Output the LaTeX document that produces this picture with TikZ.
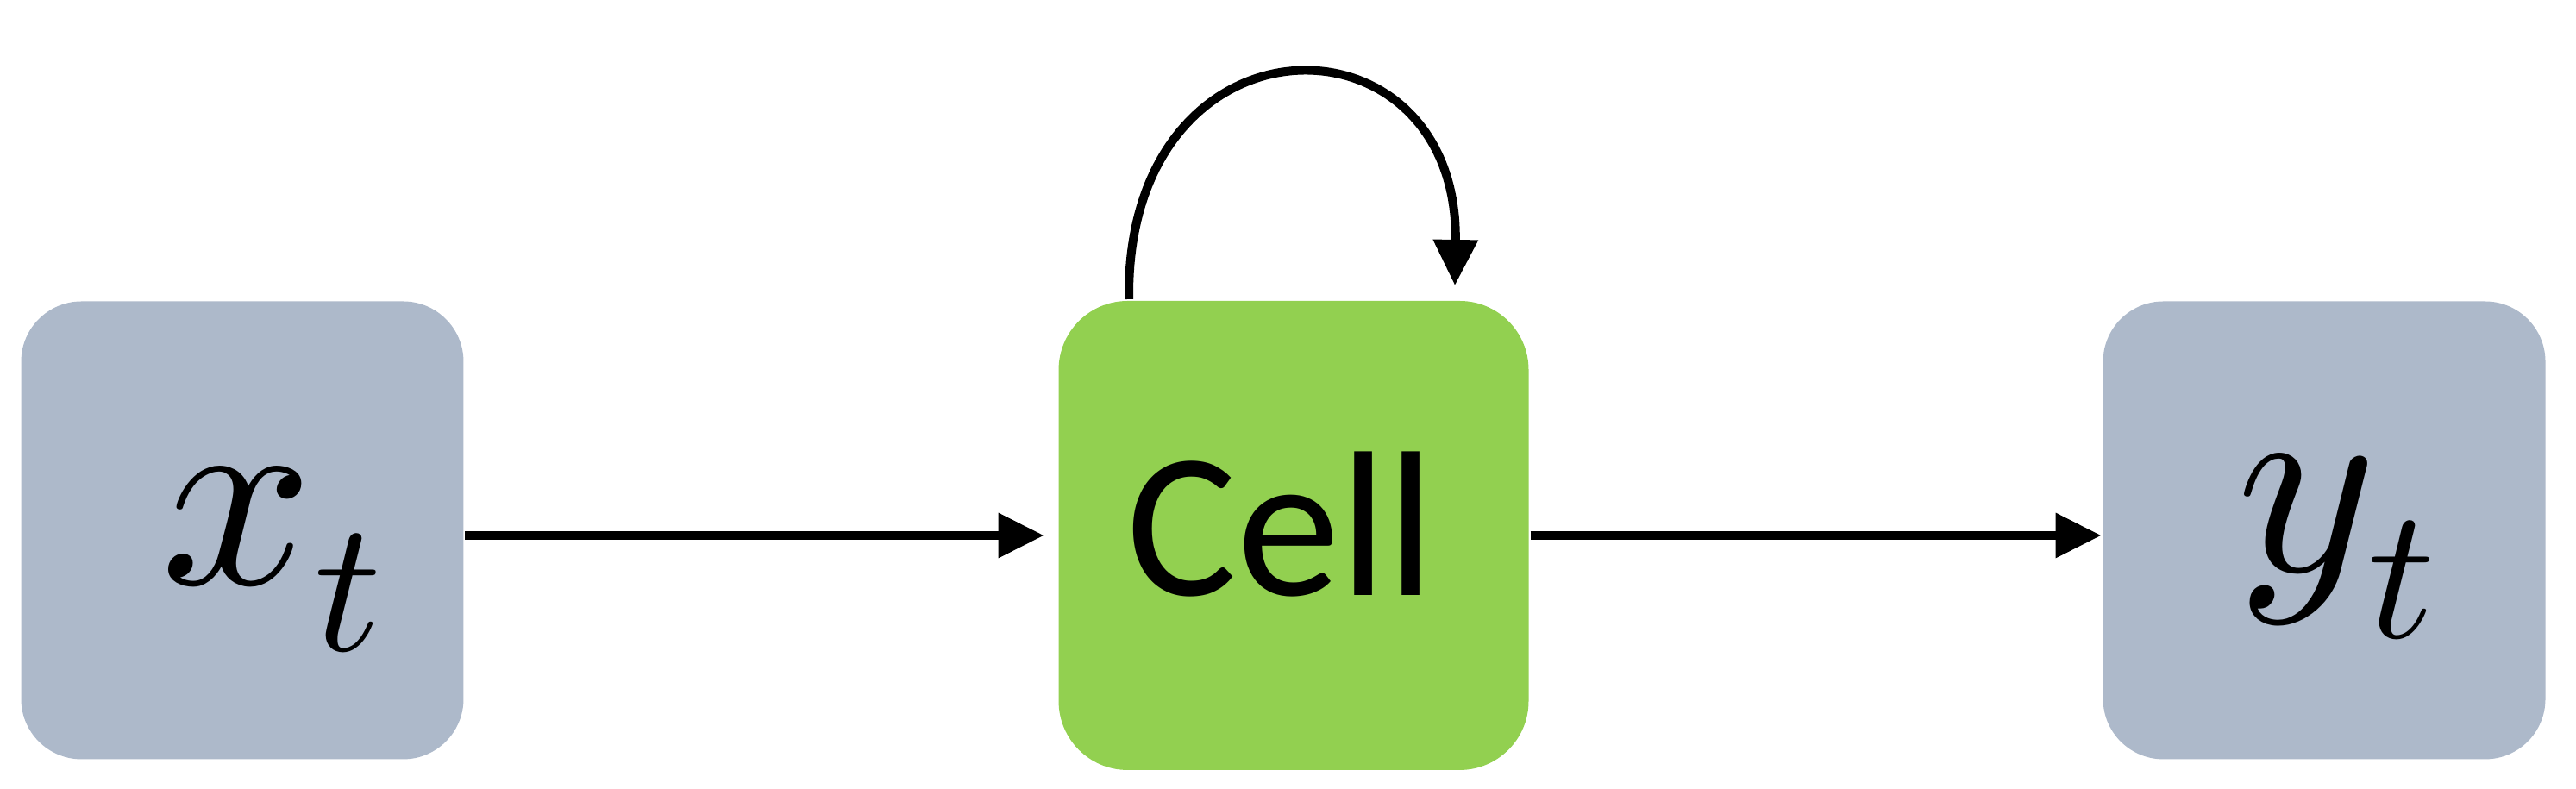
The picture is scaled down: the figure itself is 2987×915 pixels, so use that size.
\documentclass[tikz,border=0pt]{standalone}
\usepackage{unicode-math}
\setmathfont{Latin Modern Math}
\newfontfamily\cellfont{Carlito}
\usetikzlibrary{arrows.meta}
\definecolor{boxgray}{HTML}{ADB9CA}
\definecolor{cellgreen}{HTML}{92D050}
\begin{document}
\begin{tikzpicture}[x=0.1pt,y=-0.1pt,
  iobox/.style={fill=boxgray,draw=none,rounded corners=7pt,inner sep=0pt,minimum width=51.3pt,minimum height=53.1pt},
  cellbox/.style={fill=cellgreen,draw=none,rounded corners=8pt,inner sep=0pt,minimum width=54.5pt,minimum height=54.4pt},
  mathlab/.style={inner sep=0pt,anchor=base,font=\fontsize{31}{37}\selectfont},
  celllab/.style={inner sep=0pt,anchor=base,font=\cellfont\fontsize{24}{28}\selectfont},
  conn/.style={line width=1pt,-{Triangle[length=5.3pt,width=5pt]}}]
\useasboundingbox (0,0) rectangle (2987,915);
\node[iobox] (x) at (281,615) {};
\node[cellbox] (cell) at (1500,621) {};
\node[iobox] (y) at (2695,615) {};
\node[mathlab] (xl) at (317,678) {$x_t$};
\node[mathlab] (yl) at (2711,663) {$y_t$};
\node[celllab] (cl) at (1485,691) {Cell};
\draw[conn,shorten >=1.5pt] (x.east |- 0,621) -- (cell.west);
\draw[conn] (cell.east) -- (y.west |- 0,621);
\draw[conn] ([xshift=-19.1pt]cell.north) .. controls (1305,5) and (1692,5) .. ([xshift=18.7pt,yshift=1.6pt]cell.north);
\end{tikzpicture}
\end{document}
